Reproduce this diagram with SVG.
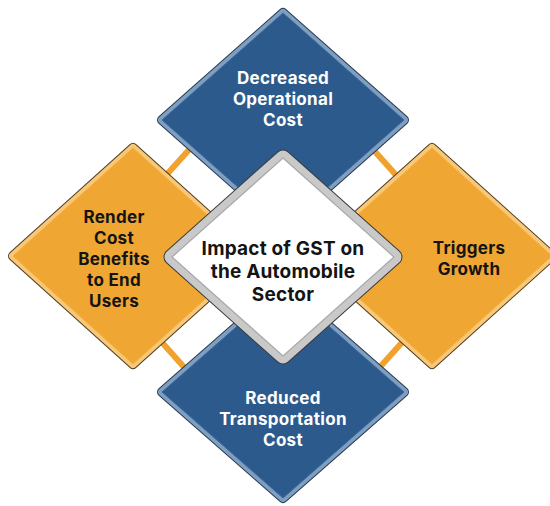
<svg xmlns="http://www.w3.org/2000/svg" width="550" height="506" viewBox="0 0 550 506">
  <style>
    .bar { stroke: #f0a12e; stroke-width: 6; stroke-linecap: butt; }
    .outline-b { fill: #24384f; stroke: #24384f; stroke-width: 10; stroke-linejoin: round; }
    .band-b { fill: #7f9fc2; stroke: #7f9fc2; stroke-width: 8; stroke-linejoin: round; }
    .main-b { fill: #2c5a8c; stroke: #3f6a98; stroke-width: 1; }
    .outline-o { fill: #4d3b22; stroke: #4d3b22; stroke-width: 10; stroke-linejoin: round; }
    .band-o { fill: #f8c877; stroke: #f8c877; stroke-width: 8; stroke-linejoin: round; }
    .main-o { fill: #f0a633; stroke: #f2ae45; stroke-width: 1; }
    .outline-c { fill: #3a3a3a; stroke: #3a3a3a; stroke-width: 17; stroke-linejoin: round; }
    .band-c { fill: #c9c9c9; stroke: #c9c9c9; stroke-width: 15; stroke-linejoin: round; }
    .main-c { fill: #ffffff; stroke: #a8a8a8; stroke-width: 1.2; }
    text { font-family: Inter, "Open Sans", "Liberation Sans", sans-serif; font-weight: 700; text-anchor: middle; }
    .tw { fill: #ffffff; font-size: 17px; letter-spacing: 0.3px; }
    .tk { fill: #141414; font-size: 17px; letter-spacing: 0.3px; }
    .tc { fill: #141414; font-size: 19px; letter-spacing: 0.2px; }
  </style>
  <defs>
    <polygon id="pTop" points="283,13 404,120 283,227 162,120"/>
    <polygon id="pLeft" points="133,148 253,256 133,364 13,256"/>
    <polygon id="pRight" points="432,148 552,256 432,364 312,256"/>
    <polygon id="pBottom" points="283,286 404,392 283,498 162,392"/>
    <polygon id="pCenter" points="283,158 394,257 283,356 172,257"/>
  </defs>
  <rect width="550" height="506" fill="#ffffff"/>
  <g id="connectors">
    <line class="bar" x1="160" y1="182" x2="196" y2="142"/>
    <line class="bar" x1="370" y1="146" x2="404" y2="184"/>
    <line class="bar" x1="158" y1="338" x2="192" y2="376"/>
    <line class="bar" x1="372" y1="376" x2="406" y2="338"/>
  </g>
  <g id="node-top">
    <use href="#pTop" class="outline-b"/>
    <use href="#pTop" class="band-b"/>
    <use href="#pTop" class="main-b"/>
    <text class="tw" x="283" y="84">Decreased</text>
    <text class="tw" x="283" y="105">Operational</text>
    <text class="tw" x="283" y="126">Cost</text>
  </g>
  <g id="node-left">
    <use href="#pLeft" class="outline-o"/>
    <use href="#pLeft" class="band-o"/>
    <use href="#pLeft" class="main-o"/>
    <text class="tk" x="114" y="223">Render</text>
    <text class="tk" x="114" y="244">Cost</text>
    <text class="tk" x="114" y="265">Benefits</text>
    <text class="tk" x="114" y="286">to End</text>
    <text class="tk" x="114" y="307">Users</text>
  </g>
  <g id="node-right">
    <use href="#pRight" class="outline-o"/>
    <use href="#pRight" class="band-o"/>
    <use href="#pRight" class="main-o"/>
    <text class="tk" x="469" y="254">Triggers</text>
    <text class="tk" x="469" y="275">Growth</text>
  </g>
  <g id="node-bottom">
    <use href="#pBottom" class="outline-b"/>
    <use href="#pBottom" class="band-b"/>
    <use href="#pBottom" class="main-b"/>
    <text class="tw" x="283" y="404">Reduced</text>
    <text class="tw" x="283" y="425">Transportation</text>
    <text class="tw" x="283" y="446">Cost</text>
  </g>
  <g id="node-center">
    <use href="#pCenter" class="outline-c"/>
    <use href="#pCenter" class="band-c"/>
    <use href="#pCenter" class="main-c"/>
    <text class="tc" x="283" y="255">Impact of GST on</text>
    <text class="tc" x="283" y="278">the Automobile</text>
    <text class="tc" x="283" y="301">Sector</text>
  </g>
</svg>
